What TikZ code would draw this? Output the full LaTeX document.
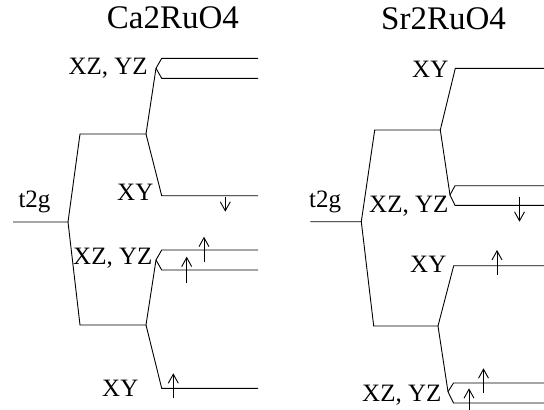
\documentclass[tikz,border=0pt]{standalone}
\usepackage{fontspec}
\setmainfont{Liberation Serif}
\usetikzlibrary{arrows.meta}
\begin{document}
\begin{tikzpicture}[x=1pt,y=-1pt,
  lvl/.style={line width=0.9pt,line join=miter},
  lab/.style={inner sep=0pt,anchor=base west,font=\fontsize{25}{29}\selectfont},
  ttl/.style={inner sep=0pt,anchor=base west,font=\fontsize{33}{38}\selectfont},
  spin/.style={line width=0.9pt,-{Straight Barb[length=9pt,width=10pt]}}]
\useasboundingbox (0,0) rectangle (544,410);

% ---------- left panel: Ca2RuO4 ----------
\node[ttl] (tL) at (106.7,28.3) {Ca2RuO4};
\coordinate (Lt0) at (13,222);
\coordinate (Lt) at (68,222);
\coordinate (Lu0) at (80,134);
\coordinate (Lu) at (146,134);
\coordinate (Ld0) at (80,325);
\coordinate (Ld) at (146,325);
% upper doublet
\coordinate (LnA) at (156,68.3);
\coordinate (LaT) at (161.7,58.3);  \coordinate (LaTe) at (258,58.3);
\coordinate (LaB) at (161.7,78.3);  \coordinate (LaBe) at (258,78.3);
% upper XY
\coordinate (LxA) at (161.7,195.7); \coordinate (LxAe) at (258,195.7);
% lower doublet
\coordinate (LnB) at (156,260);
\coordinate (LbT) at (161.7,250);   \coordinate (LbTe) at (258,250);
\coordinate (LbB) at (161.7,270);   \coordinate (LbBe) at (258,270);
% lower XY
\coordinate (LxB) at (161.7,388.3); \coordinate (LxBe) at (258,388.3);

\draw[lvl] (Lt0) -- (Lt) -- (Lu0) -- (Lu);
\draw[lvl] (Lt) -- (Ld0) -- (Ld);
\draw[lvl] (Lu) -- (LnA);
\draw[lvl] (LaTe) -- (LaT) -- (LnA) -- (LaB) -- (LaBe);
\draw[lvl] (Lu) -- (LxA) -- (LxAe);
\draw[lvl] (Ld) -- (LnB);
\draw[lvl] (LbTe) -- (LbT) -- (LnB) -- (LbB) -- (LbBe);
\draw[lvl] (Ld) -- (LxB) -- (LxBe);

\node[lab] (l1) at (18.3,207) {t2g};
\node[lab] (l2) at (68.3,74) {XZ, YZ};
\node[lab] (l3) at (117,200.5) {XY};
\node[lab] (l4) at (73,264) {XZ, YZ};
\node[lab] (l5) at (102,396) {XY};

\coordinate (a1s) at (225.3,196.7); \coordinate (a1e) at (225.3,211.7);
\coordinate (a2s) at (204,261.7);   \coordinate (a2e) at (204,236.7);
\coordinate (a3s) at (186.7,283.3); \coordinate (a3e) at (186.7,256.7);
\coordinate (a4s) at (173.3,398.3); \coordinate (a4e) at (173.3,373.3);
\draw[spin] (a1s) -- (a1e);
\draw[spin] (a2s) -- (a2e);
\draw[spin] (a3s) -- (a3e);
\draw[spin] (a4s) -- (a4e);

% ---------- right panel: Sr2RuO4 ----------
\node[ttl] (tR) at (381,29) {Sr2RuO4};
\coordinate (Rt0) at (310.3,221.7);
\coordinate (Rt) at (361.3,221.7);
\coordinate (Ru0) at (374.7,130);
\coordinate (Ru) at (440.3,130);
\coordinate (Rd0) at (373.7,326);
\coordinate (Rd) at (438,326);
% top XY
\coordinate (RxA) at (455.3,68.3);  \coordinate (RxAe) at (544,68.3);
% middle doublet
\coordinate (RnA) at (450,195);
\coordinate (RaT) at (455,185.7);   \coordinate (RaTe) at (544,185.7);
\coordinate (RaB) at (455,205.3);   \coordinate (RaBe) at (544,205.3);
% middle XY
\coordinate (RxB) at (453.7,265.7); \coordinate (RxBe) at (544,265.7);
% low doublet
\coordinate (RnB) at (448,391.7);
\coordinate (RbT) at (453.5,383);   \coordinate (RbTe) at (544,383);
\coordinate (RbB) at (453.5,403);   \coordinate (RbBe) at (544,403);

\draw[lvl] (Rt0) -- (Rt) -- (Ru0) -- (Ru);
\draw[lvl] (Rt) -- (Rd0) -- (Rd);
\draw[lvl] (Ru) -- (RxA) -- (RxAe);
\draw[lvl] (Ru) -- (RnA);
\draw[lvl] (RaTe) -- (RaT) -- (RnA) -- (RaB) -- (RaBe);
\draw[lvl] (Rd) -- (RxB) -- (RxBe);
\draw[lvl] (Rd) -- (RnB);
\draw[lvl] (RbTe) -- (RbT) -- (RnB) -- (RbB) -- (RbBe);

\node[lab] (r1) at (309,207) {t2g};
\node[lab] (r2) at (412,77) {XY};
\node[lab] (r3) at (369,212) {XZ, YZ};
\node[lab] (r4) at (410,272) {XY};
\node[lab] (r5) at (362,401) {XZ, YZ};

\coordinate (b1s) at (519.5,196.7); \coordinate (b1e) at (519.5,221.7);
\coordinate (b2s) at (497,275);     \coordinate (b2e) at (497,250);
\coordinate (b3s) at (483.5,393);   \coordinate (b3e) at (483.5,368.3);
\coordinate (b4s) at (469,410);     \coordinate (b4e) at (469,388.3);
\draw[spin] (b1s) -- (b1e);
\draw[spin] (b2s) -- (b2e);
\draw[spin] (b3s) -- (b3e);
\draw[spin] (b4s) -- (b4e);
\end{tikzpicture}
\end{document}
